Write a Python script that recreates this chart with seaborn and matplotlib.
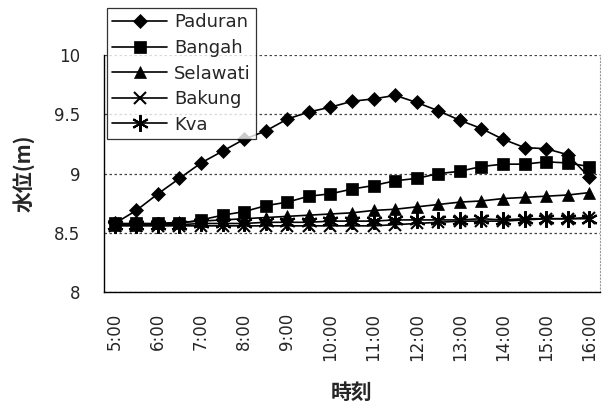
import matplotlib
matplotlib.use("Agg")
import matplotlib.pyplot as plt
import numpy as np
import pandas as pd
import seaborn as sns

# Observation times, every 30 minutes
times = ["5:00", "5:30", "6:00", "6:30", "7:00", "7:30", "8:00", "8:30",
         "9:00", "9:30", "10:00", "10:30", "11:00", "11:30", "12:00", "12:30",
         "13:00", "13:30", "14:00", "14:30", "15:00", "15:30", "16:00"]

# Water level (m) at each station
paduran = [8.58, 8.69, 8.83, 8.96, 9.09, 9.19, 9.29, 9.36, 9.46, 9.52, 9.56, 9.61,
           9.63, 9.66, 9.60, 9.53, 9.45, 9.38, 9.29, 9.22, 9.21, 9.16, 8.97]
bangah = [8.58, 8.58, 8.58, 8.58, 8.61, 8.65, 8.68, 8.73, 8.76, 8.81, 8.83, 8.87,
          8.90, 8.94, 8.96, 9.00, 9.02, 9.06, 9.08, 9.08, 9.10, 9.09, 9.06]
selawati = [8.57, 8.57, 8.58, 8.59, 8.60, 8.61, 8.62, 8.63, 8.64, 8.65, 8.66, 8.67,
            8.69, 8.70, 8.72, 8.74, 8.76, 8.77, 8.79, 8.80, 8.81, 8.82, 8.84]
bakung = [8.56, 8.56, 8.56, 8.56, 8.56, 8.56, 8.56, 8.56, 8.56, 8.56, 8.56, 8.56,
          8.56, 8.57, 8.58, 8.59, 8.60, 8.60, 8.60, 8.61, 8.62, 8.62, 8.63]
kva = [8.57, 8.57, 8.57, 8.57, 8.58, 8.58, 8.58, 8.59, 8.59, 8.59, 8.60, 8.60,
       8.60, 8.61, 8.61, 8.61, 8.61, 8.62, 8.61, 8.62, 8.62, 8.62, 8.62]

series_names = ["Paduran", "Bangah", "Selawati", "Bakung", "Kva"]
series_values = [paduran, bangah, selawati, bakung, kva]
# the last one is a six-armed asterisk (x plus a vertical stroke)
series_markers = ["D", "s", "^", "x", (6, 2, 0)]
marker_sizes = [7.5, 8.5, 9, 9, 12]

y_ticks = [8, 8.5, 9, 9.5, 10]

sns.set_style("white")
plt.rcParams["font.family"] = ["DejaVu Sans"]

fig = plt.figure(figsize=(6.08, 4.05), dpi=100)
ax = fig.add_axes([104 / 608, 1 - 292.3 / 405, (600 - 104) / 608, (292.3 - 55) / 405])

idx = np.arange(len(times))
for name, vals, mk, ms in zip(series_names, series_values, series_markers, marker_sizes):
    df = pd.DataFrame({"t": idx, "level": vals})
    stroke = not isinstance(mk, str) or mk == "x"
    sns.lineplot(data=df, x="t", y="level", ax=ax, color="black", linewidth=1.2,
                 marker=mk, markersize=ms, markerfacecolor="black",
                 markeredgecolor="black", markeredgewidth=1.5 if stroke else 0.5,
                 label=name)

ax.set_xlim(-0.5, len(times) - 0.5)
ax.set_ylim(8, 10)
ax.set_yticks(y_ticks)
ax.set_yticklabels(["8", "8.5", "9", "9.5", "10"], fontsize=12)
ax.yaxis.grid(True, linestyle=(0, (2, 2)), color="#444444", linewidth=0.9)
ax.xaxis.grid(False)

ax.set_xticks(idx[::2])
ax.set_xticklabels(times[::2], rotation=90, fontsize=12)
ax.set_xticks(np.arange(len(times) + 1) - 0.5, minor=True)
ax.tick_params(axis="x", which="major", length=0, pad=15)
ax.tick_params(axis="x", which="minor", direction="in", length=4, width=0.8, color="black")
ax.tick_params(axis="y", which="major", direction="out", length=3, width=0.8,
               color="black", pad=14)

for side in ("left", "bottom"):
    ax.spines[side].set_color("black")
    ax.spines[side].set_linewidth(1.0)
ax.spines["top"].set_visible(False)
ax.spines["right"].set_color("#999999")
ax.spines["right"].set_linestyle((0, (1, 2)))
ax.spines["right"].set_linewidth(0.8)

ax.set_xlabel("時刻", family=["Noto Sans CJK JP", "DejaVu Sans"], fontsize=15,
              fontweight="bold", labelpad=15)
ax.set_ylabel("水位(m)", family=["Noto Sans CJK JP", "DejaVu Sans"], fontsize=15,
              fontweight="bold", labelpad=14)

leg = ax.legend(loc="upper left", bbox_to_anchor=(107 / 608, 1 - 8 / 405),
                bbox_transform=fig.transFigure, borderaxespad=0, frameon=True,
                fancybox=False, edgecolor="black", fontsize=13, handlelength=3.0,
                handletextpad=0.4, labelspacing=0.42, borderpad=0.3)
leg.get_frame().set_linewidth(0.9)
leg.set_zorder(10)

fig.savefig("out.png", dpi=100, facecolor="white")
